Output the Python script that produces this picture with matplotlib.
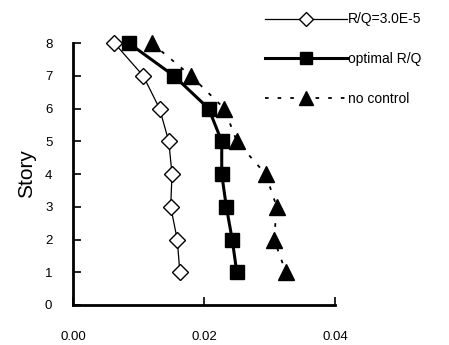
import numpy as np
import matplotlib
matplotlib.use("Agg")
import matplotlib.pyplot as plt

plt.rcParams['font.family'] = ['Liberation Sans', 'DejaVu Sans']

# story numbers and drift of each case
story = [8, 7, 6, 5, 4, 3, 2, 1]
rq_fixed = [0.0063, 0.0107, 0.0132, 0.0146, 0.0151, 0.0149, 0.0159, 0.0163]
rq_optimal = [0.0085, 0.0154, 0.0207, 0.0227, 0.0227, 0.0234, 0.0243, 0.0250]
no_control = [0.0120, 0.0180, 0.0231, 0.0250, 0.0294, 0.0311, 0.0307, 0.0325]

labels = ['R/Q=3.0E-5', 'optimal R/Q', 'no control']
xticks = [0.00, 0.02, 0.04]
xtick_labels = ['0.00', '0.02', '0.04']

fig = plt.figure(figsize=(4.49, 3.45), dpi=100)
ax = fig.add_axes([0.163, 0.116, 0.583, 0.759])

ax.plot(rq_fixed, story, color='black', lw=0.9, marker='D', ms=8.5,
        mfc='white', mec='black', mew=1.0, label=labels[0], clip_on=False)
ax.plot(rq_optimal, story, color='black', lw=2.2, marker='s', ms=10.5,
        mfc='black', mec='black', label=labels[1], clip_on=False)
ax.plot(no_control, story, color='black', lw=1.3, ls=(0, (2, 5)), marker='^', ms=12,
        mfc='black', mec='black', label=labels[2], clip_on=False)

ax.set_xlim(0, 0.04)
ax.set_ylim(0, 8)
ax.set_xticks(xticks)
ax.set_xticklabels(xtick_labels)
ax.set_yticks(range(0, 9))
ax.tick_params(direction='in', length=6, width=1.2, labelsize=9.5, colors='black')
ax.tick_params(axis='x', pad=19)
ax.tick_params(axis='y', pad=15)
for s in ['top', 'right']:
    ax.spines[s].set_visible(False)
ax.spines['left'].set_linewidth(2)
ax.spines['bottom'].set_linewidth(2)
ax.set_ylabel('Story', fontsize=15, labelpad=6)

fig.legend(loc='upper left', bbox_to_anchor=(0.562, 1.0), frameon=False,
           handlelength=5.9, labelspacing=1.85, fontsize=10, handletextpad=0.1,
           markerscale=0.85)

plt.savefig('out.png', dpi=100)
